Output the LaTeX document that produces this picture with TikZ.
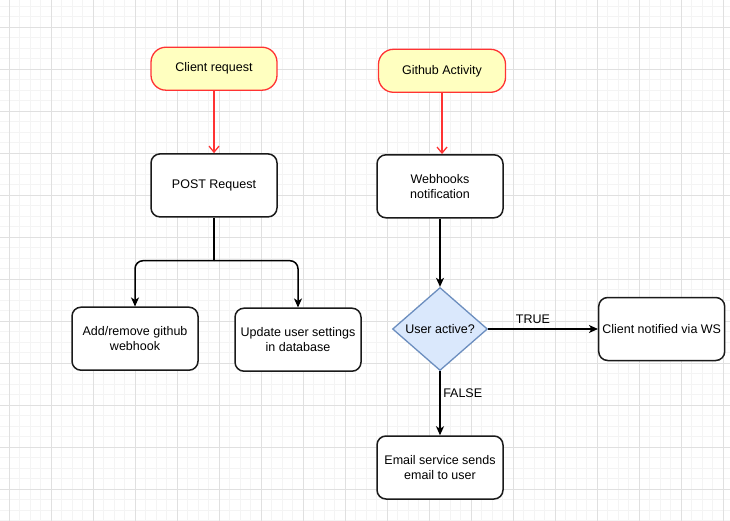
\documentclass[tikz,border=0pt]{standalone}
\usepackage{fontspec}
\setmainfont{Liberation Sans}
\usetikzlibrary{arrows.meta,shapes.geometric}
\definecolor{startfill}{HTML}{FFFFC0}
\definecolor{startdraw}{HTML}{FF3333}
\definecolor{decfill}{HTML}{DAE8FC}
\definecolor{decdraw}{HTML}{6C8EBF}
\definecolor{gridmajor}{HTML}{E0E0E0}
\definecolor{gridminor}{HTML}{F4F4F4}
\definecolor{boxdraw}{HTML}{1A1A1A}
\begin{document}
\begin{tikzpicture}[x=1pt,y=-1pt,
  every node/.style={font=\fontsize{12.5pt}{15.5pt}\selectfont},
  startnode/.style={draw=startdraw, fill=startfill, line width=1.3pt, rounded corners=15pt,
    minimum width=126pt, minimum height=43pt, inner sep=2pt, align=center},
  procnode/.style={draw=boxdraw, fill=white, line width=1.5pt, rounded corners=9pt,
    minimum width=126pt, minimum height=63pt, inner sep=2pt, align=center},
  decnode/.style={diamond, draw=decdraw, fill=decfill, line width=1.3pt,
    minimum width=95pt, minimum height=83pt, inner sep=0pt, aspect=1.145},
  redarrow/.style={draw=startdraw, line width=1.3pt, -{Straight Barb[length=6pt,width=10pt]}},
  blackarrow/.style={draw=black, line width=1.5pt, -{Stealth[length=9pt,width=8pt,inset=2.5pt]}},
  plainline/.style={draw=black, line width=1.5pt},
  lbl/.style={inner sep=0pt}
]
\useasboundingbox (0,0) rectangle (730,521);
\fill[white] (0,0) rectangle (730,521);
% grid
\foreach \k in {-1,...,69} \draw[gridminor, line width=0.9pt] ({9.3+10.5*\k},0) -- ({9.3+10.5*\k},521);
\foreach \k in {-3,...,47} \draw[gridminor, line width=0.9pt] (0,{27.3+10.5*\k}) -- (730,{27.3+10.5*\k});
\foreach \k in {0,...,17} \draw[gridmajor, line width=0.9pt] ({9.3+42*\k},0) -- ({9.3+42*\k},521);
\foreach \k in {-1,...,11} \draw[gridmajor, line width=0.9pt] (0,{27.3+42*\k}) -- (730,{27.3+42*\k});

% nodes
\node[startnode] (cr) at (214,68.7) {Client request};
\node[startnode, minimum width=127pt] (ga) at (442,70.8) {Github Activity};
\node[procnode] (post) at (214,185.4) {POST Request};
\node[procnode] (wh) at (440,186.3) {Webhooks\\notification};
\node[procnode] (add) at (135,338.7) {Add/remove github\\webhook};
\node[procnode] (upd) at (298,339.7) {Update user settings\\in database};
\node[decnode] (dec) at (440,329) {User active?};
\node[procnode] (cn) at (661.7,329) {Client notified via WS};
\node[procnode] (em) at (440,467.5) {Email service sends\\email to user};
\coordinate (split) at (214,260.7);

% connectors
\draw[redarrow] (cr) -- (post);
\draw[redarrow] (ga.south) -- (ga.south |- wh.north);
\draw[plainline] (post.south) -- (split);
\draw[blackarrow, rounded corners=8pt] (split) -| (add.north);
\draw[blackarrow, rounded corners=8pt] (split) -| (upd.north);
\draw[blackarrow] (wh.south) -- (dec.north);
\draw[blackarrow] (dec.east) -- (cn.west);
\draw[blackarrow] (dec.south) -- (em.north);

% labels
\node[lbl] (t) at (533,319.3) {TRUE};
\node[lbl] (f) at (462.7,393.3) {FALSE};
\end{tikzpicture}
\end{document}
